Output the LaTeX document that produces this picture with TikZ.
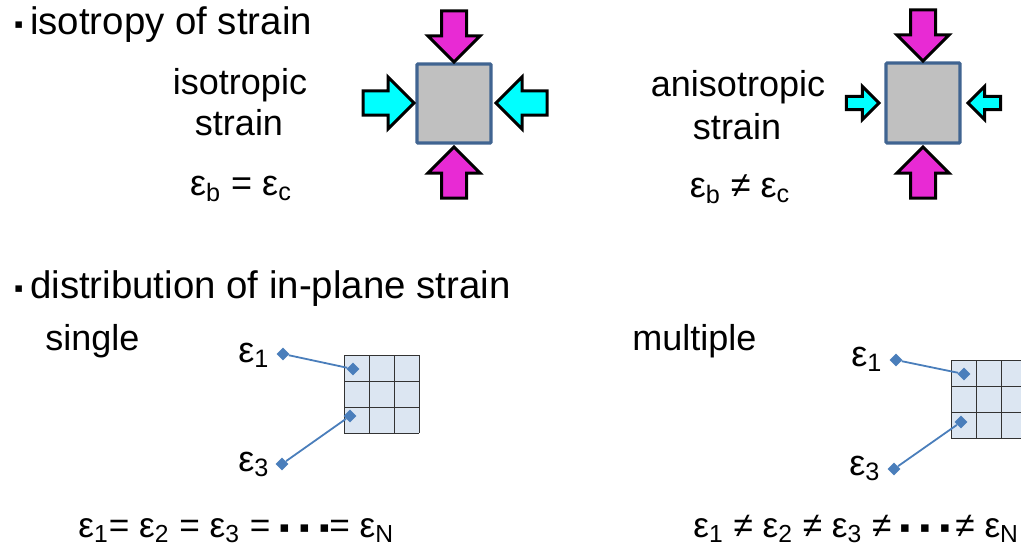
\documentclass[tikz,border=0pt]{standalone}
\usepackage{fontspec}
\setmainfont{Liberation Sans}
\newfontfamily\symfont{DejaVu Sans}
\usetikzlibrary{shapes.geometric}

\definecolor{pressmag}{RGB}{232,42,212}
\definecolor{presscyan}{RGB}{0,255,255}
\definecolor{cubegray}{RGB}{192,192,192}
\definecolor{cubeedge}{RGB}{64,100,145}
\definecolor{cellfill}{RGB}{220,230,242}
\definecolor{linkblue}{RGB}{74,126,187}

\newcommand{\sqbullet}{\raisebox{3pt}{\symfont\fontsize{6.5}{6.5}\selectfont ▪}}
\newcommand{\sqdot}{\makebox[10pt]{\raisebox{2.2pt}{\symfont\fontsize{7.5}{7.5}\selectfont ▪}}}

\begin{document}
\begin{tikzpicture}[x=0.5pt, y=-0.5pt,
  heading/.style={font=\fontsize{19.2}{23}\selectfont, anchor=base west, inner sep=0pt},
  txt/.style={font=\fontsize{18}{21}\selectfont, anchor=base, inner sep=0pt},
  eqtxt/.style={font=\fontsize{18}{21}\selectfont, anchor=base west, inner sep=0pt},
  press/.style={draw=black, line width=1.5pt, fill=#1},
  endmark/.style={diamond, fill=linkblue, inner sep=0pt, minimum size=6.5pt},
  link/.style={draw=linkblue, line width=0.9pt}]

\useasboundingbox (0,0) rectangle (1021,551);
\clip (0,0) rectangle (1021,551);

% isotropy of strain
\node[heading] (head1) at (14,35) {\sqbullet\kern3.5pt isotropy of strain};

\node[txt] (iso) at (240,95) {isotropic};
\node[txt] (isostr) at (239,135) {strain};
\node[txt] (isoeq) at (241,195) {ε\textsubscript{b} = ε\textsubscript{c}};

\node[txt] (aniso) at (738,97) {anisotropic};
\node[txt] (anisostr) at (737,140) {strain};
\node[txt] (anisoeq) at (740,197) {ε\textsubscript{b} ≠ ε\textsubscript{c}};

\draw[fill=cubegray, draw=cubeedge, line width=1.6pt, rounded corners=0.5pt] (417,64) rectangle (491,143);
\draw[fill=cubegray, draw=cubeedge, line width=1.6pt, rounded corners=0.5pt] (886,63) rectangle (960,143);

% block arrows: tip x / tip y / direction / colour / scale / half shaft
\foreach \tx/\ty/\ang/\col/\s/\w in {454/62/-90/pressmag/1/12.5, 454/147/90/pressmag/1/12.5,
    414/103/0/presscyan/1/12, 496/103/180/presscyan/1/12,
    923/61/-90/pressmag/1/12.5, 923/147/90/pressmag/1/12.5,
    879/103/0/presscyan/0.64/10.2, 968/103/180/presscyan/0.64/10.2}{
\begin{scope}[shift={(\tx,\ty)}, rotate=\ang, scale=\s]
\draw[press=\col] (0,0) -- (-26,-26) -- (-26,-\w) -- (-51,-\w) -- (-51,\w) -- (-26,\w) -- (-26,26) -- cycle;
\end{scope}
}

% distribution of in-plane strain
\node[heading] (head2) at (14,298) {\sqbullet\kern3.5pt distribution of in-plane strain};

\node[eqtxt] (single) at (45,350) {single};
\node[eqtxt] (multiple) at (632,350) {multiple};

\foreach \gx/\gy in {344/355, 951/360}{
\fill[cellfill] (\gx,\gy) rectangle +(75,78);
\foreach \i in {0,1,2,3}{
\draw[black!80, line width=0.5pt] (\gx+25*\i,\gy) -- ++(0,78);
\draw[black!80, line width=0.5pt] (\gx,\gy+26*\i) -- ++(75,0);
}
}

\node[eqtxt] (eps1a) at (238,362) {ε\textsubscript{1}};
\node[eqtxt] (eps3a) at (238,471) {ε\textsubscript{3}};
\node[endmark] (m1a) at (283,354) {};
\node[endmark] (c1a) at (353,369) {};
\node[endmark] (m3a) at (282,464) {};
\node[endmark] (c3a) at (350,416) {};
\draw[link] (m1a) -- (c1a);
\draw[link] (m3a) -- (c3a);

\node[eqtxt] (eps1b) at (851,366) {ε\textsubscript{1}};
\node[eqtxt] (eps3b) at (849,475) {ε\textsubscript{3}};
\node[endmark] (m1b) at (896,360) {};
\node[endmark] (c1b) at (964,374) {};
\node[endmark] (m3b) at (894,469) {};
\node[endmark] (c3b) at (961,422) {};
\draw[link] (m1b) -- (c1b);
\draw[link] (m3b) -- (c3b);

\node[eqtxt, font=\fontsize{17.6}{21}\selectfont] (eqsingle) at (78,537) {ε\textsubscript{1}= ε\textsubscript{2} = ε\textsubscript{3} =\kern2pt\sqdot\sqdot\sqdot\kern-2.5pt= ε\textsubscript{N}};
\node[eqtxt, font=\fontsize{17.6}{21}\selectfont] (eqmulti) at (693,537) {ε\textsubscript{1} ≠ ε\textsubscript{2} ≠ ε\textsubscript{3} ≠\kern1.8pt\sqdot\sqdot\sqdot\kern0.2pt≠ ε\textsubscript{N}};
\end{tikzpicture}
\end{document}
